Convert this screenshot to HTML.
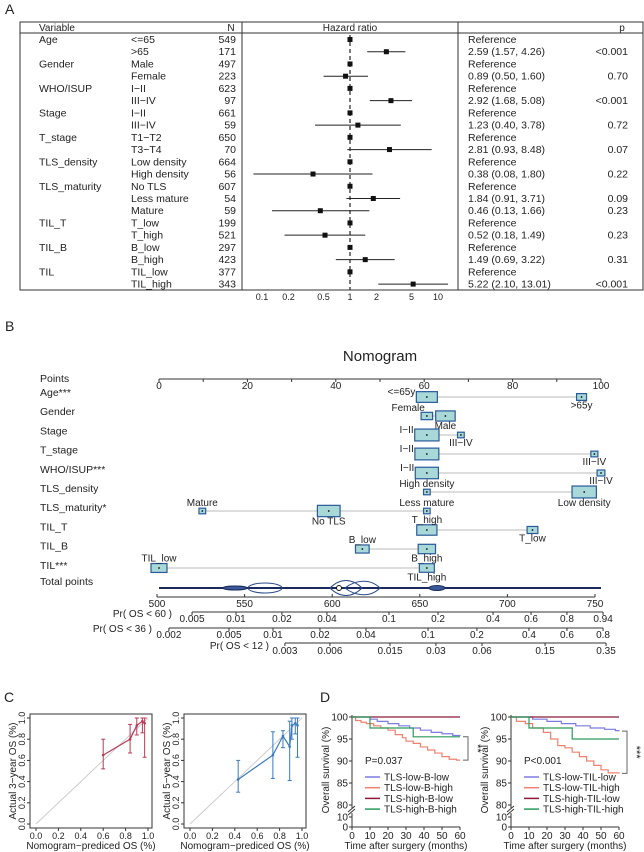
<!DOCTYPE html>
<html><head><meta charset="utf-8"><style>
html,body{margin:0;padding:0;background:#fff;}
svg{display:block;font-family:"Liberation Sans",Arial,sans-serif;}
</style></head><body>
<svg id="fig" width="644" height="852" viewBox="0 0 644 852" xmlns="http://www.w3.org/2000/svg"></svg>
<script>
// ---- Panel A data ----
const fVariables = ["Age","","Gender","","WHO/ISUP","","Stage","","T_stage","","TLS_density","","TLS_maturity","","","TIL_T","","TIL_B","","TIL",""];
const fLevels = ["<=65",">65","Male","Female","I\u2212II","III\u2212IV","I\u2212II","III\u2212IV","T1\u2212T2","T3\u2212T4","Low density","High density","No TLS","Less mature","Mature","T_low","T_high","B_low","B_high","TIL_low","TIL_high"];
const fCounts = [549,171,497,223,623,97,661,59,650,70,664,56,607,54,59,199,521,297,423,377,343];
const fHR = [1,2.59,1,0.89,1,2.92,1,1.23,1,2.81,1,0.38,1,1.84,0.46,1,0.52,1,1.49,1,5.22];
const fLow = [null,1.57,null,0.50,null,1.68,null,0.40,null,0.93,null,0.08,null,0.91,0.13,null,0.18,null,0.69,null,2.10];
const fHigh = [null,4.26,null,1.60,null,5.08,null,3.78,null,8.48,null,1.80,null,3.71,1.66,null,1.49,null,3.22,null,13.01];
const fP = ["","<0.001","","0.70","","<0.001","","0.72","","0.07","","0.22","","0.09","0.23","","0.23","","0.31","","<0.001"];
const fTicks = [0.1,0.2,0.5,1,2,5,10];
const fTickLabels = ["0.1","0.2","0.5","1","2","5","10"];

// ---- Panel B data ----
const nRows = ["Age***","Gender","Stage","T_stage","WHO/ISUP***","TLS_density","TLS_maturity*","TIL_T","TIL_B","TIL***"];
const nLevelNames = [["<=65y",">65y"],["Female","Male"],["I\u2212II","III\u2212IV"],["I\u2212II","III\u2212IV"],["I\u2212II","III\u2212IV"],["High density","Low density"],["Mature","No TLS","Less mature"],["T_high","T_low"],["B_low","B_high"],["TIL_low","TIL_high"]];
const nLevelPoints = [[60.6,95.6],[60.6,64.8],[60.6,68.3],[60.6,98.5],[60.6,100],[60.6,96.2],[9.8,38.4,60.6],[60.6,84.5],[46,60.6],[0,60.6]];
const nLevelFreq = [[549,171],[223,497],[661,59],[650,70],[623,97],[56,664],[59,607,54],[521,199],[297,423],[377,343]];
const nLabelPos = [["left","below"],["aboveL","below"],["left","below"],["left","below"],["left","below"],["above","below"],["above","below","above"],["above","below"],["above","below"],["above","below"]];
const pointTicks = [0,10,20,30,40,50,60,70,80,90,100];
const pointTickLabels = ["0","","20","","40","","60","","80","","100"];
const totalTicks = [500,550,600,650,700,750];
const pr60Labels = ["0.005","0.01","0.02","0.04","0.1","0.2","0.4","0.6","0.8","0.94"];
const pr60Totals = [520,545.1,571.3,597,632.4,660.4,691.8,713.5,734,754.6];
const pr36Labels = ["0.002","0.005","0.01","0.02","0.04","0.1","0.2","0.4","0.6","0.8"];
const pr36Totals = [506.8,541.1,566.2,593,619.3,654.7,682.6,712.3,734,754.6];
const pr12Labels = ["0.003","0.006","0.015","0.03","0.06","0.15","0.35"];
const pr12Totals = [573,598.7,633,659.2,685.5,721.5,756.3];

// ---- Panel C data ----
const cal3Pred = [0.60,0.84,0.90,0.95,0.97];
const cal3Obs = [0.65,0.80,0.93,0.97,0.95];
const cal3Lo = [0.52,0.67,0.84,0.86,0.63];
const cal3Hi = [0.80,0.94,1.0,1.0,1.0];
const cal5Pred = [0.43,0.74,0.83,0.89,0.91,0.94,0.96];
const cal5Obs = [0.42,0.65,0.83,0.73,0.93,0.95,0.93];
const cal5Lo = [0.30,0.43,0.72,0.41,0.80,0.85,0.63];
const cal5Hi = [0.60,0.87,0.88,0.97,1.0,1.0,1.0];
const calTicks = [0,0.2,0.4,0.6,0.8,1.0];

// ---- Panel D data ----
const kmTime1Blue = [0,10,14,20,26,32,38,44,50,56,60];
const kmSurv1Blue = [100,99.5,99,98.5,98,97.5,97,96.5,96.2,95.8,95.7];
const kmTime1Red = [0,2,5,8,12,16,20,24,28,30,34,38,42,46,50,54,58,60];
const kmSurv1Red = [100,99.2,98.8,98.5,98,97.5,97,96,95.3,94.5,94,93.2,92.5,91.8,91,90.4,90.2,90.2];
const kmTime1Dark = [0,60];
const kmSurv1Dark = [100,100];
const kmTime1Green = [0,10,34,60];
const kmSurv1Green = [100,97.5,95.5,95.5];
const kmTime2Blue = [0,12,20,28,36,44,52,58,60];
const kmSurv2Blue = [100,99.5,99,98.5,98,97.5,97.2,96.9,96.8];
const kmTime2Red = [0,3,8,12,18,22,26,30,34,38,42,46,50,54,60];
const kmSurv2Red = [100,99,98.5,97.5,96.5,95,93.5,93,92,91,90,89,88,87.3,87.2];
const kmTime2Dark = [0,60];
const kmSurv2Dark = [100,100];
const kmTime2Green = [0,10,34,60];
const kmSurv2Green = [100,97.5,95,95];
const kmYTicks = [100,95,90,85,80];
const kmXTicks = [0,10,20,30,40,50,60];

const NS = "http://www.w3.org/2000/svg";
const svg = document.getElementById("fig");
function mk(tag, attrs, name, parent){
  const el = document.createElementNS(NS, tag);
  for (const k in attrs) el.setAttribute(k, attrs[k]);
  
  
  (parent || svg).appendChild(el);
  return el;
}
function txt(x, y, s, size, anchor, name, extra){
  const a = {x:x, y:y, "font-size":size, "text-anchor":anchor||"start", fill:"#222"};
  if (extra) for (const k in extra) a[k] = extra[k];
  const el = mk("text", a, name);
  el.textContent = s;
  return el;
}
function line(x1,y1,x2,y2,stroke,w,name,extra){
  const a = {x1:x1,y1:y1,x2:x2,y2:y2,stroke:stroke,"stroke-width":w};
  if (extra) for (const k in extra) a[k]=extra[k];
  return mk("line", a, name);
}

// ================= Panel A =================
txt(5, 14, "A", 14, "start", "panel-a-label");
mk("rect", {x:20,y:22,width:623,height:268,fill:"none",stroke:"#333","stroke-width":1}, "forest-table-border");
line(242,22,242,290,"#333",1,"forest-divider-left");
line(458,22,458,290,"#333",1,"forest-divider-right");
line(20,33,643,33,"#333",1,"forest-header-rule");
txt(39,31,"Variable",10,"start","header-variable");
txt(231,31,"N",10,"middle","header-n");
txt(350,31,"Hazard ratio",10,"middle","header-hazard-ratio");
txt(622,31,"p",10,"middle","header-p");
const fx = v => 350 + Math.log10(v) * 88;
line(fx(1),35,fx(1),290,"#222",1.2,"reference-line",{"stroke-dasharray":"4,3"});
for (let i = 0; i < fLevels.length; i++){
  const y = 39.5 + i * 12.23;
  if (fVariables[i]) txt(39, y+3.5, fVariables[i], 10.5, "start", "variable-label");
  txt(131, y+3.5, fLevels[i], 10.5, "start", "level-label");
  txt(236, y+3.5, String(fCounts[i]), 10.5, "end", "count-label");
  if (fLow[i] !== null){
    line(fx(fLow[i]), y, fx(fHigh[i]), y, "#222", 1, "ci-line");
    txt(468, y+3.5, fHR[i].toFixed(2)+" ("+fLow[i].toFixed(2)+", "+fHigh[i].toFixed(2)+")", 10.5, "start", "hr-text");
    txt(628, y+3.5, fP[i], 10.5, "end", "p-value");
  } else {
    txt(468, y+3.5, "Reference", 10.5, "start", "hr-text");
  }
  mk("rect", {x:fx(fHR[i])-2.5, y:y-2.5, width:5, height:5, fill:"#111"}, "hr-marker");
}
for (let i = 0; i < fTicks.length; i++){
  txt(fx(fTicks[i]), 300, fTickLabels[i], 9, "middle", "forest-x-tick");
}

// ================= Panel B =================
txt(5, 331, "B", 14, "start", "panel-b-label");
txt(380, 361, "Nomogram", 15, "middle", "nomogram-title");
const px = p => 159 + p * 4.42;
txt(40, 382, "Points", 10.5, "start", "points-label");
line(159,379,601,379,"#333",1,"points-axis");
for (let i=0;i<pointTicks.length;i++){
  line(px(pointTicks[i]),379,px(pointTicks[i]),382,"#333",1,"points-tick");
  if (pointTickLabels[i]) txt(px(pointTicks[i]),389,pointTickLabels[i],10,"middle","points-tick-label");
}
const maxFreq = 720;
for (let r=0;r<nRows.length;r++){
  const ly = 396 + r*19.2;
  const cy = 397 + r*19.0;
  txt(40, ly, nRows[r], 10.5, "start", "nomogram-row-label");
  const pts = nLevelPoints[r];
  line(px(Math.min(...pts)), cy, px(Math.max(...pts)), cy, "#bbb", 1, "nomogram-range-line");
  for (let k=0;k<pts.length;k++){
    const f = nLevelFreq[r][k]/maxFreq;
    const w = 5 + 21*f, h = 5 + 7.5*f;
    const x = px(pts[k]);
    mk("rect",{x:x-w/2,y:cy-h/2,width:w,height:h,fill:"#a8d8d8",stroke:"#2a5a9a","stroke-width":1.2},"nomogram-level-box");
    mk("circle",{cx:x,cy:cy,r:0.9,fill:"#111"},"nomogram-level-dot");
    const pos = nLabelPos[r][k];
    const lab = nLevelNames[r][k];
    if (pos==="left") txt(x-w/2-1, cy-2, lab, 10, "end", "nomogram-level-label");
    else if (pos==="aboveL") txt(x-2, cy-5, lab, 10, "end", "nomogram-level-label");
    else if (pos==="above") txt(x, cy-h/2-2, lab, 10, "middle", "nomogram-level-label");
    else txt(x, cy+h/2+8, lab, 10, "middle", "nomogram-level-label");
  }
}
txt(40, 585, "Total points", 10.5, "start", "total-points-label");
line(159,588,601,588,"#1a2a5a",2,"total-points-density-base");
mk("ellipse",{cx:235,cy:588,rx:12,ry:2,fill:"#3a5a9a",stroke:"#1a2a5a","stroke-width":1},"density-shape");
mk("ellipse",{cx:265,cy:588,rx:17,ry:5,fill:"none",stroke:"#2a4a8a","stroke-width":1},"density-shape");
mk("path",{d:"M330,588 C340,578 352,578 362,588 C352,598 340,598 330,588 Z M345,588 C355,580 370,578 380,588 C370,598 355,596 345,588 Z",fill:"none",stroke:"#2a4a8a","stroke-width":1},"density-shape");
mk("ellipse",{cx:437,cy:588,rx:8,ry:2.5,fill:"#3a5a9a",stroke:"#1a2a5a","stroke-width":1},"density-shape");
mk("circle",{cx:339,cy:588,r:2.5,fill:"#fff",stroke:"#111","stroke-width":1},"total-points-mean");
const tp = v => 157 + (v-500) * (438/250);
line(157,597,595,597,"#333",1,"total-points-axis");
for (const t of totalTicks){
  line(tp(t),597,tp(t),594,"#333",1,"total-points-tick");
  txt(tp(t),607,String(t),10,"middle","total-points-tick-label");
}
function prAxis(yLine, yText, labelEnd, labelY, title, totals, labels, nm){
  txt(labelEnd, labelY, title, 10, "end", nm+"-title");
  line(tp(totals[0]), yLine, tp(totals[totals.length-1]), yLine, "#333", 1, nm+"-axis");
  for (let i=0;i<totals.length;i++){
    line(tp(totals[i]), yLine, tp(totals[i]), yLine+3, "#333", 1, nm+"-tick");
    txt(tp(totals[i]), yText, labels[i], 10, "middle", nm+"-tick-label");
  }
}
prAxis(612,622,172,617,"Pr( OS < 60 )",pr60Totals,pr60Labels,"pr-os-60");
prAxis(628,638,152,632,"Pr( OS < 36 )",pr36Totals,pr36Labels,"pr-os-36");
prAxis(643,654,269,649,"Pr( OS < 12 )",pr12Totals,pr12Labels,"pr-os-12");

// ================= Panel C =================
txt(4, 702, "C", 14, "start", "panel-c-label");
function calPlot(x0, pred, obs, lo, hi, color, ylab, nm){
  const cx = v => x0 + 6 + v*112;
  const cy = v => 824 - v*106;
  mk("rect",{x:x0,y:714,width:122,height:114,fill:"none",stroke:"#333","stroke-width":1},nm+"-frame");
  line(cx(0),cy(0),cx(1),cy(1),"#ccc",1,nm+"-ideal-line");
  for (const t of calTicks){
    line(cx(t),828,cx(t),831,"#333",1,nm+"-x-tick");
    txt(cx(t),839,t.toFixed(1),9,"middle",nm+"-x-tick-label");
    line(x0,cy(t),x0-3,cy(t),"#333",1,nm+"-y-tick");
    txt(x0-5,cy(t),t.toFixed(1),9,"middle",nm+"-y-tick-label",{transform:"rotate(-90 "+(x0-5)+" "+cy(t)+")"});
  }
  let d = "";
  for (let i=0;i<pred.length;i++){
    d += (i?"L":"M")+cx(pred[i])+","+cy(obs[i]);
    line(cx(pred[i]),cy(lo[i]),cx(pred[i]),cy(hi[i]),color,1,nm+"-error-bar");
    line(cx(pred[i])-2,cy(lo[i]),cx(pred[i])+2,cy(lo[i]),color,1,nm+"-error-cap");
    line(cx(pred[i])-2,cy(hi[i]),cx(pred[i])+2,cy(hi[i]),color,1,nm+"-error-cap");
    mk("circle",{cx:cx(pred[i]),cy:cy(obs[i]),r:1.3,fill:color},nm+"-point");
  }
  mk("path",{d:d,fill:"none",stroke:color,"stroke-width":1.2},nm+"-curve");
  const ly = 771, lx = x0-14;
  txt(lx, ly, ylab, 10, "middle", nm+"-y-title", {transform:"rotate(-90 "+lx+" "+ly+")"});
  txt(x0+61, 849, "Nomogram\u2212prediced OS (%)", 10, "middle", nm+"-x-title");
}
calPlot(30, cal3Pred, cal3Obs, cal3Lo, cal3Hi, "#b83a55", "Actual 3\u2212year OS (%)", "calibration-3yr");
calPlot(184, cal5Pred, cal5Obs, cal5Lo, cal5Hi, "#3a7ac0", "Actual 5\u2212year OS (%)", "calibration-5yr");

// ================= Panel D =================
txt(320, 702, "D", 14, "start", "panel-d-label");
function kmPlot(x0, series, legend, pText, bracketTop, bracketBot, stars, nm){
  const kx = t => x0 + t*(108/60);
  const ky = s => 717 + (100-s)*4.4;
  line(x0,715,x0,827,"#333",1,nm+"-y-axis");
  line(x0,827,kx(60),827,"#333",1,nm+"-x-axis");
  mk("rect",{x:x0-4,y:808,width:8,height:5,fill:"#fff"},nm+"-axis-break-gap");
  line(x0-4,812,x0+3,806,"#333",1,nm+"-axis-break");
  line(x0-4,815,x0+3,809,"#333",1,nm+"-axis-break");
  for (const t of kmYTicks){
    line(x0-3,ky(t),x0,ky(t),"#333",1,nm+"-y-tick");
    txt(x0-4,ky(t)+3.5,String(t),10,"end",nm+"-y-tick-label");
  }
  line(x0-3,817,x0,817,"#333",1,nm+"-y-tick");
  txt(x0-4,820.5,"10",10,"end",nm+"-y-tick-label");
  line(x0-3,827,x0,827,"#333",1,nm+"-y-tick");
  txt(x0-4,830.5,"0",10,"end",nm+"-y-tick-label");
  for (const t of kmXTicks){
    line(kx(t),827,kx(t),830,"#333",1,nm+"-x-tick");
    txt(kx(t),839,String(t),10,"middle",nm+"-x-tick-label");
  }
  const ly = 770, lx = x0-23;
  txt(lx, ly, "Overall survival (%)", 10, "middle", nm+"-y-title", {transform:"rotate(-90 "+lx+" "+ly+")"});
  txt(x0+54, 849, "Time after surgery (months)", 10, "middle", nm+"-x-title");
  for (const s of series){
    let d = "M"+kx(s.t[0])+","+ky(s.s[0]);
    for (let i=1;i<s.t.length;i++){
      d += "H"+kx(s.t[i])+"V"+ky(s.s[i]);
    }
    mk("path",{d:d,fill:"none",stroke:s.c,"stroke-width":1.2},nm+"-km-curve");
  }
  txt(x0+13, 764, pText, 10, "start", nm+"-p-value");
  for (let i=0;i<legend.length;i++){
    const y = 777 + i*10.7;
    line(x0+13,y,x0+28,y,series[i].c,1.5,nm+"-legend-swatch");
    txt(x0+32,y+3.5,legend[i],10,"start",nm+"-legend-entry");
  }
  const bx = kx(60)+8;
  mk("path",{d:"M"+(bx-5)+","+ky(bracketTop)+"H"+bx+"V"+ky(bracketBot)+"H"+(bx-5),fill:"none",stroke:"#666","stroke-width":1},nm+"-significance-bracket");
  const sy = (ky(bracketTop)+ky(bracketBot))/2;
  txt(bx+6, sy, stars, 11, "middle", nm+"-significance-stars", {transform:"rotate(90 "+(bx+6)+" "+sy+")"});
}
kmPlot(352, [
  {t:kmTime1Blue,s:kmSurv1Blue,c:"#7b7be0"},
  {t:kmTime1Red,s:kmSurv1Red,c:"#f08070"},
  {t:kmTime1Dark,s:kmSurv1Dark,c:"#8b1a3a"},
  {t:kmTime1Green,s:kmSurv1Green,c:"#2a9a5a"}],
  ["TLS-low-B-low","TLS-low-B-high","TLS-high-B-low","TLS-high-B-high"], "P=0.037", 95.5, 90.2, "**", "km-b");
kmPlot(511, [
  {t:kmTime2Blue,s:kmSurv2Blue,c:"#7b7be0"},
  {t:kmTime2Red,s:kmSurv2Red,c:"#f08070"},
  {t:kmTime2Dark,s:kmSurv2Dark,c:"#8b1a3a"},
  {t:kmTime2Green,s:kmSurv2Green,c:"#2a9a5a"}],
  ["TLS-low-TIL-low","TLS-low-TIL-high","TLS-high-TIL-low","TLS-high-TIL-high"], "P<0.001", 96.8, 87.2, "***", "km-til");
</script>
</body></html>
